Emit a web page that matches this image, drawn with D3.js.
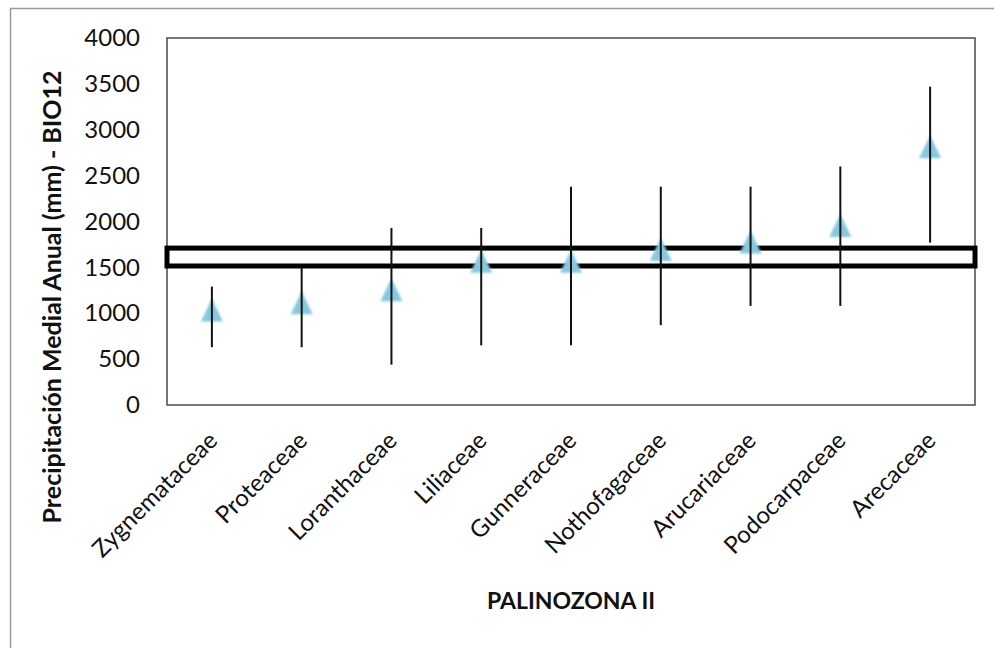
<!DOCTYPE html>
<html lang="es">
<head>
<meta charset="UTF-8">
<title>Palinozona II - BIO12</title>
<style>
  body { margin: 0; background: #fff; }
  svg { display: block; }
  text { font-family: Lato, "Open Sans", sans-serif; fill: #111; }
</style>
</head>
<body>
<svg width="994" height="648"></svg>
<script src="https://cdn.jsdelivr.net/npm/d3@7"></script>
<script>
// data
const familias = ["Zygnemataceae", "Proteaceae", "Loranthaceae", "Liliaceae", "Gunneraceae",
  "Nothofagaceae", "Arucariaceae", "Podocarpaceae", "Arecaceae"];
const media  = [1030, 1110, 1250, 1560, 1560, 1690, 1770, 1950, 2810];
const minimo = [630, 630, 440, 650, 650, 870, 1080, 1080, 1770];
const maximo = [1290, 1500, 1930, 1930, 2380, 2380, 2380, 2600, 3470];
const yTicks = [0, 500, 1000, 1500, 2000, 2500, 3000, 3500, 4000];
const banda = [1515, 1710];   // rango de la palinozona

const svg = d3.select("svg");

const m = { left: 167, right: 975, top: 38, bottom: 405 };

const x = d3.scaleBand()
  .domain(familias)
  .range([m.left, m.right]);

const y = d3.scaleLinear()
  .domain([0, 4000])
  .range([m.bottom, m.top]);

const datos = familias.map((f, i) => ({ f, med: media[i], lo: minimo[i], hi: maximo[i] }));

// marco exterior (solo se ven izquierda y arriba)
svg.append("path")
  .attr("d", "M10.5,648 V8.5 H994")
  .attr("fill", "none")
  .attr("stroke", "#9a9a9a")
  .attr("stroke-width", 1.5);

// area de trazado
svg.append("rect")
  .attr("x", m.left)
  .attr("y", m.top)
  .attr("width", m.right - m.left)
  .attr("height", m.bottom - m.top)
  .attr("fill", "none")
  .attr("stroke", "#4a4a4a")
  .attr("stroke-width", 1.5);

// eje y
const yAxis = svg.append("g")
  .attr("transform", `translate(${m.left},0)`)
  .call(d3.axisLeft(y).tickValues(yTicks).tickFormat(d3.format("d")).tickSize(0).tickPadding(27));
yAxis.select(".domain").remove();
yAxis.selectAll("text")
  .style("font-family", "Lato, 'Open Sans', sans-serif")
  .style("font-size", "24px")
  .attr("fill", "#111");

// eje x
const xAxis = svg.append("g")
  .attr("transform", `translate(0,${m.bottom})`)
  .call(d3.axisBottom(x).tickSize(0));
xAxis.select(".domain").remove();
xAxis.selectAll("text")
  .style("font-family", "Lato, 'Open Sans', sans-serif")
  .style("font-size", "24px")
  .attr("fill", "#111")
  .attr("text-anchor", "end")
  .attr("dy", null)
  .attr("y", 0)
  .attr("transform", "translate(7,37) rotate(-45)");

// banda
svg.append("rect")
  .attr("x", m.left)
  .attr("y", y(banda[1]))
  .attr("width", m.right - m.left)
  .attr("height", y(banda[0]) - y(banda[1]))
  .attr("fill", "none")
  .attr("stroke", "#000")
  .attr("stroke-width", 5);

// marcadores
const defs = svg.append("defs");
defs.append("filter").attr("id", "blur")
  .append("feGaussianBlur").attr("stdDeviation", 1);

const cx = d => x(d.f) + x.bandwidth() / 2;

svg.append("g")
  .selectAll("path")
  .data(datos)
  .join("path")
  .attr("d", d => `M${cx(d)},${y(d.med) - 12} L${cx(d) + 11},${y(d.med) + 11} L${cx(d) - 11},${y(d.med) + 11} Z`)
  .attr("fill", "#86c9df")
  .attr("filter", "url(#blur)");

// barras de error
svg.append("g")
  .selectAll("line")
  .data(datos)
  .join("line")
  .attr("x1", cx)
  .attr("x2", cx)
  .attr("y1", d => y(d.lo))
  .attr("y2", d => y(d.hi))
  .attr("stroke", "#111")
  .attr("stroke-width", 2);

// titulos
svg.append("text")
  .attr("transform", "translate(52,297) rotate(-90)")
  .attr("dy", "0.35em")
  .attr("text-anchor", "middle")
  .style("font-size", "25px")
  .style("font-weight", "bold")
  .text("Precipitación Medial Anual (mm) - BIO12");

svg.append("text")
  .attr("x", (m.left + m.right) / 2)
  .attr("y", 609)
  .attr("text-anchor", "middle")
  .style("font-size", "23px")
  .style("font-weight", "bold")
  .text("PALINOZONA II");
</script>
</body>
</html>
